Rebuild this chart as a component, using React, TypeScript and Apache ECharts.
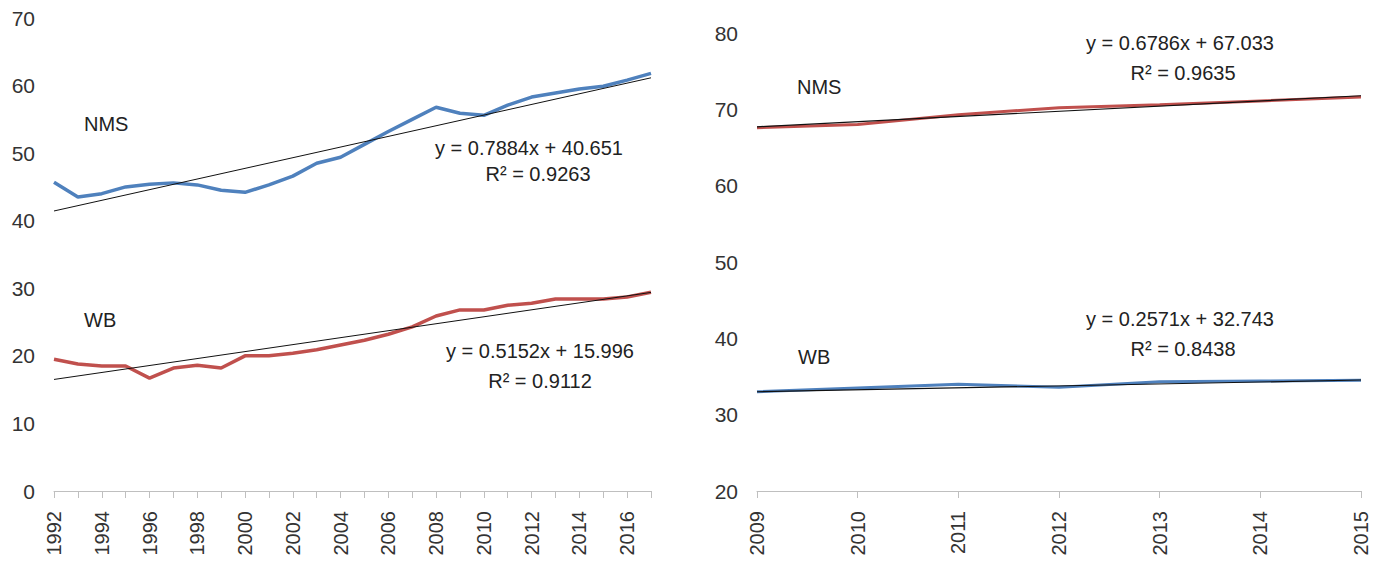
import React, { useEffect, useRef } from "react";
import * as echarts from "echarts";

const leftYears = [
  "1992","1993","1994","1995","1996","1997","1998","1999","2000","2001","2002","2003","2004",
  "2005","2006","2007","2008","2009","2010","2011","2012","2013","2014","2015","2016","2017",
];
const leftNMS = [
  45.7, 43.5, 44.0, 45.0, 45.4, 45.6, 45.3, 44.5, 44.2, 45.3, 46.6, 48.5, 49.4,
  51.3, 53.2, 55.0, 56.8, 55.9, 55.6, 57.1, 58.3, 58.9, 59.5, 59.9, 60.8, 61.8,
];
const leftWB = [
  19.5, 18.8, 18.5, 18.5, 16.7, 18.2, 18.6, 18.2, 20.0, 20.0, 20.4, 20.9, 21.6,
  22.3, 23.2, 24.3, 25.9, 26.8, 26.8, 27.5, 27.8, 28.4, 28.4, 28.4, 28.7, 29.4,
];
const leftNMSTrend = [41.44, 61.15];
const leftWBTrend = [16.51, 29.39];

const rightYears = ["2009", "2010", "2011", "2012", "2013", "2014", "2015"];
const rightNMS = [67.6, 68.0, 69.3, 70.2, 70.6, 71.1, 71.6];
const rightWB = [33.0, 33.5, 34.0, 33.6, 34.3, 34.4, 34.5];
const rightNMSTrend = [67.71, 71.78];
const rightWBTrend = [33.0, 34.54];

const FONT = "'Liberation Sans Narrow', 'Liberation Sans', sans-serif";
const TXT = "#333333";
const BLUE = "#4F81BD";
const RED = "#C0504D";

export default function App() {
  const ref = useRef<HTMLDivElement>(null);
  useEffect(() => {
    if (!ref.current) return;
    const chart = echarts.init(ref.current, undefined, { renderer: "svg" });
    const xAxisCommon = {
      type: "category" as const,
      boundaryGap: false,
      axisLine: { lineStyle: { color: "#BFBFBF", width: 1 } },
      axisTick: { show: true, length: 7, interval: 0, lineStyle: { color: "#BFBFBF" } },
      splitLine: { show: false },
    };
    const yAxisCommon = {
      type: "value" as const,
      interval: 10,
      axisLine: { show: false },
      axisTick: { show: false },
      splitLine: { show: false },
      axisLabel: { fontSize: 21, color: TXT, fontFamily: FONT, margin: 19 },
    };
    const text = (x: number, y: number, t: string, align = "center") => ({
      type: "text",
      x,
      y,
      style: { text: t, fontSize: 20, fontFamily: FONT, fill: "#222", textAlign: align, textVerticalAlign: "middle" },
    });
    chart.setOption({
      animation: false,
      grid: [
        { left: 54, top: 18, width: 597, height: 473 },
        { left: 757, top: 33, width: 604, height: 458 },
      ],
      xAxis: [
        {
          ...xAxisCommon,
          gridIndex: 0,
          data: leftYears,
          axisLabel: { interval: 1, rotate: 90, fontSize: 20, color: TXT, fontFamily: FONT, margin: 20 },
        },
        {
          ...xAxisCommon,
          gridIndex: 1,
          data: rightYears,
          axisLabel: { interval: 0, rotate: 90, fontSize: 20, color: TXT, fontFamily: FONT, margin: 20 },
        },
      ],
      yAxis: [
        { ...yAxisCommon, gridIndex: 0, min: 0, max: 70 },
        { ...yAxisCommon, gridIndex: 1, min: 20, max: 80 },
      ],
      series: [
        { type: "line", xAxisIndex: 0, yAxisIndex: 0, data: leftNMS, symbol: "none", lineStyle: { color: BLUE, width: 3.5 } },
        { type: "line", xAxisIndex: 0, yAxisIndex: 0, data: leftWB, symbol: "none", lineStyle: { color: RED, width: 3.5 } },
        { type: "line", xAxisIndex: 0, yAxisIndex: 0, data: [[0, leftNMSTrend[0]], [leftYears.length - 1, leftNMSTrend[1]]], symbol: "none", lineStyle: { color: "#111", width: 1 } },
        { type: "line", xAxisIndex: 0, yAxisIndex: 0, data: [[0, leftWBTrend[0]], [leftYears.length - 1, leftWBTrend[1]]], symbol: "none", lineStyle: { color: "#111", width: 1 } },
        { type: "line", xAxisIndex: 1, yAxisIndex: 1, data: rightNMS, symbol: "none", lineStyle: { color: RED, width: 3 } },
        { type: "line", xAxisIndex: 1, yAxisIndex: 1, data: rightWB, symbol: "none", lineStyle: { color: BLUE, width: 3 } },
        { type: "line", xAxisIndex: 1, yAxisIndex: 1, data: [[0, rightNMSTrend[0]], [rightYears.length - 1, rightNMSTrend[1]]], symbol: "none", lineStyle: { color: "#111", width: 1.2 } },
        { type: "line", xAxisIndex: 1, yAxisIndex: 1, data: [[0, rightWBTrend[0]], [rightYears.length - 1, rightWBTrend[1]]], symbol: "none", lineStyle: { color: "#111", width: 1.2 } },
      ],
      graphic: [
        text(84, 124, "NMS", "left"),
        text(529, 148, "y = 0.7884x + 40.651"),
        text(538, 174, "R² = 0.9263"),
        text(84, 320, "WB", "left"),
        text(540, 351, "y = 0.5152x + 15.996"),
        text(540, 381, "R² = 0.9112"),
        text(797, 87, "NMS", "left"),
        text(1180, 43, "y = 0.6786x + 67.033"),
        text(1183, 73, "R² = 0.9635"),
        text(798, 357, "WB", "left"),
        text(1180, 319, "y = 0.2571x + 32.743"),
        text(1183, 349, "R² = 0.8438"),
      ],
    });
    return () => chart.dispose();
  }, []);
  return <div ref={ref} style={{ position: "absolute", left: 0, top: 0, width: 1390, height: 571, background: "#fff" }} />;
}
